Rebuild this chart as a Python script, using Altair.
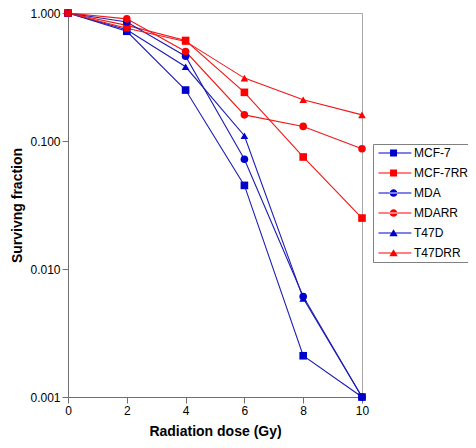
import altair as alt
import pandas as pd

doses = [0, 2, 4, 6, 8, 10]
series_names = ["MCF-7", "MCF-7RR", "MDA", "MDARR", "T47D", "T47DRR"]
mcf7 = [1.0, 0.72, 0.25, 0.045, 0.0021, 0.001]
mcf7rr = [1.0, 0.80, 0.61, 0.24, 0.075, 0.025]
mda = [1.0, 0.85, 0.46, 0.072, 0.0061, 0.001]
mdarr = [1.0, 0.90, 0.50, 0.16, 0.13, 0.087]
t47d = [1.0, 0.74, 0.38, 0.11, 0.0059, 0.001]
t47drr = [1.0, 0.76, 0.60, 0.31, 0.21, 0.16]
y_ticks = [1.0, 0.1, 0.01, 0.001]
x_ticks = [0, 2, 4, 6, 8, 10]

colors = ["#0000CC", "#FF0000", "#0000CC", "#FF0000", "#0000CC", "#FF0000"]
line_colors = ["#1C1CB4", "#F01818", "#1C1CB4", "#F01818", "#1C1CB4", "#F01818"]
shapes = ["square", "square", "circle", "circle", "triangle-up", "triangle-up"]

# legend symbols: line segment + marker (unit path, offset to the right)
seg = "M-1,-0.16H8.4V0.16H-1Z"
legend_shapes = [
    seg + "M2.3,-1H4.3V1H2.3Z",
    seg + "M2.3,-1H4.3V1H2.3Z",
    seg + "M2.2,0A1.1,1.1 0 1,0 4.4,0A1.1,1.1 0 1,0 2.2,0Z",
    seg + "M2.2,0A1.1,1.1 0 1,0 4.4,0A1.1,1.1 0 1,0 2.2,0Z",
    seg + "M3.3,-1.1L4.5,0.9H2.1Z",
    seg + "M3.3,-1.1L4.5,0.9H2.1Z",
]

values = [mcf7, mcf7rr, mda, mdarr, t47d, t47drr]
rows = []
for name, vals in zip(series_names, values):
    for d, v in zip(doses, vals):
        rows.append({"series": name, "dose": d, "value": v})
df = pd.DataFrame(rows)

FONT = "Liberation Sans"

x_enc = alt.X(
    "dose:Q",
    scale=alt.Scale(domain=[0, 10], nice=False),
    axis=alt.Axis(
        values=x_ticks, title="Radiation dose (Gy)", grid=False, tickSize=6,
        labelPadding=2, titlePadding=8, labelFontSize=12, titleFontSize=14,
        titleFontWeight="bold", labelFont=FONT, titleFont=FONT,
        domainColor="#707070", tickColor="#707070", labelColor="#000",
        titleColor="#000", labelFlush=False,
    ),
)
y_enc = alt.Y(
    "value:Q",
    scale=alt.Scale(type="log", domain=[0.001, 1], nice=False),
    axis=alt.Axis(
        values=y_ticks, format=".3f", title="Survivng fraction", grid=False,
        tickSize=6, labelPadding=2, titlePadding=5, labelFontSize=12,
        titleFontSize=14, titleFontWeight="bold", labelFont=FONT, titleFont=FONT,
        domainColor="#707070", tickColor="#707070", labelColor="#000",
        titleColor="#000", labelFlush=False,
    ),
)

lines = alt.Chart(df).mark_line(strokeWidth=1.1).encode(
    x=x_enc, y=y_enc,
    color=alt.Color("series:N", scale=alt.Scale(domain=series_names, range=line_colors), legend=None),
    detail="series:N",
)

points = alt.Chart(df).mark_point(filled=True, size=58, opacity=1).encode(
    x=x_enc, y=y_enc,
    color=alt.Color("series:N", scale=alt.Scale(domain=series_names, range=colors), legend=None),
    shape=alt.Shape("series:N", scale=alt.Scale(domain=series_names, range=shapes), legend=None),
)

legend_cfg = dict(
    title=None, orient="none", legendX=305, legendY=131,
    strokeColor="#808080", padding=3, rowPadding=8,
    labelOffset=26, labelFontSize=12, labelFont=FONT, labelColor="#000",
    symbolSize=49, symbolStrokeWidth=0,
)

legend_layer = alt.Chart(df).transform_filter("false").mark_point(filled=True, size=49, opacity=1).encode(
    x=x_enc, y=y_enc,
    color=alt.Color(
        "series:N", scale=alt.Scale(domain=series_names, range=colors),
        legend=alt.Legend(**legend_cfg),
    ),
    shape=alt.Shape(
        "series:N", scale=alt.Scale(domain=series_names, range=legend_shapes),
        legend=alt.Legend(**legend_cfg),
    ),
)

chart = (
    alt.layer(lines, points, legend_layer)
    .resolve_scale(color="independent", shape="independent")
    .properties(
        width=294, height=384,
        autosize=alt.AutoSizeParams(type="none"),
        padding={"left": 60, "top": 5, "right": 106, "bottom": 43},
        background="white",
    )
    .configure_view(stroke="#A8A8A8", strokeWidth=1)
)

chart.save("out.html", embed_options={"renderer": "svg", "actions": False})
